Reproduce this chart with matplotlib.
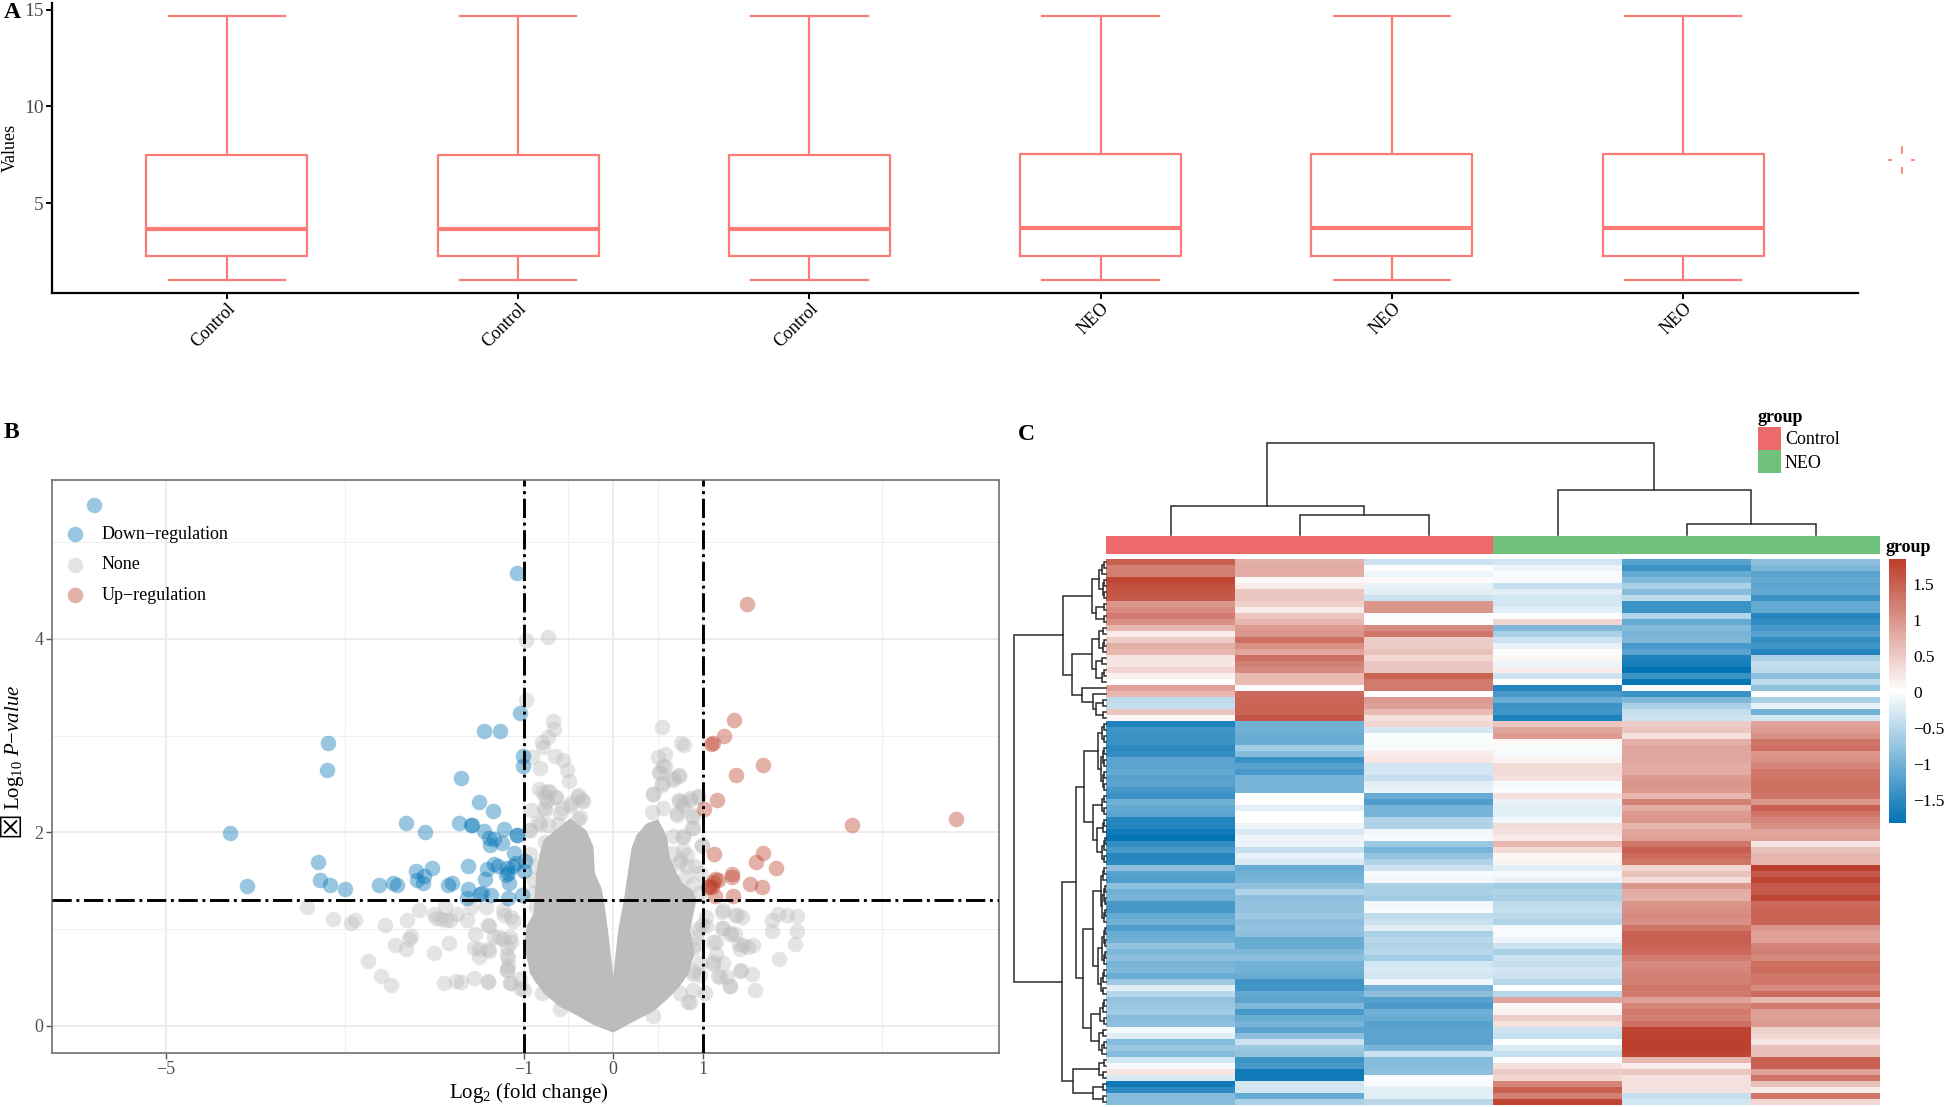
import numpy as np
import matplotlib
matplotlib.use("Agg")
import matplotlib.pyplot as plt
from matplotlib.colors import LinearSegmentedColormap, ListedColormap
from matplotlib.patches import Rectangle

plt.rcParams["font.family"] = ["Liberation Serif", "DejaVu Sans"]
plt.rcParams["mathtext.fontset"] = "custom"
plt.rcParams["mathtext.rm"] = "Liberation Serif"
plt.rcParams["mathtext.it"] = "Liberation Serif:italic"
plt.rcParams["mathtext.bf"] = "Liberation Serif:bold"

W, H = 1946, 1107

# A: boxplot summary per sample
samples = ["Control", "Control", "Control", "NEO", "NEO", "NEO"]
whisker_low = [1.0, 1.0, 1.0, 1.03, 1.03, 1.03]
box_q1 = [2.25, 2.25, 2.25, 2.27, 2.27, 2.27]
box_median = [3.65, 3.65, 3.65, 3.72, 3.72, 3.72]
box_q3 = [7.5, 7.5, 7.5, 7.52, 7.52, 7.52]
whisker_high = [14.7, 14.7, 14.7, 14.68, 14.68, 14.68]

# B: volcano points
down_x = [-5.8, -4.28, -4.09, -3.19, -3.2, -3.3, -3.28, -3.16, -3.0, -2.62, -2.46, -2.42, -2.2, -2.19, -2.11,
          -2.13, -2.03, -1.85, -1.8, -2.32, -2.1, -1.7, -1.44, -1.27, -1.5, -1.34, -1.72, -1.58, -1.59, -1.44,
          -1.22, -1.39, -1.33, -1.38, -1.24, -1.08, -1.07, -1.11, -1.62, -1.41, -1.33, -1.29, -1.19, -1.12, -1.09,
          -1.17, -1.2, -1.16, -1.43, -0.99, -1.0, -1.62, -1.47, -1.49, -1.37, -1.63, -1.17, -1.02, -1.08, -1.04,
          -1.01, -1.01]
down_y = [5.38, 1.99, 1.45, 2.92, 2.64, 1.69, 1.51, 1.46, 1.41, 1.46, 1.48, 1.46, 1.6, 1.51, 1.55,
          1.48, 1.63, 1.46, 1.48, 2.1, 2.0, 2.56, 3.05, 3.05, 2.31, 2.22, 2.1, 2.08, 2.08, 2.01,
          2.03, 1.94, 1.93, 1.87, 1.89, 1.97, 1.97, 1.79, 1.65, 1.62, 1.67, 1.65, 1.63, 1.65, 1.68,
          1.58, 1.56, 1.48, 1.52, 1.7, 1.6, 1.41, 1.37, 1.36, 1.35, 1.32, 1.32, 1.35, 4.68, 3.23,
          2.79, 2.68]
up_x = [1.5, 1.35, 1.24, 1.11, 1.09, 1.67, 1.37, 1.16, 1.01, 2.67, 3.83, 1.13, 1.67, 1.59, 1.82, 1.33, 1.33,
        1.14, 1.17, 1.12, 1.53, 1.66, 1.08, 1.06, 1.1, 1.14, 1.34]
up_y = [4.36, 3.16, 2.99, 2.92, 2.91, 2.7, 2.59, 2.33, 2.24, 2.08, 2.14, 1.78, 1.79, 1.69, 1.63, 1.57, 1.54,
        1.52, 1.51, 1.49, 1.47, 1.44, 1.45, 1.43, 1.44, 1.34, 1.34]
none_x = [-3.42, -3.13, -2.93, -2.89, -2.55, -2.3, -2.17, -2.26, -2.28, -2.44, -2.31, -2.74, -2.59, -2.48, -2.0,
          -1.83, -2.0, -1.98, -1.92, -1.87, -1.82, -1.88, -1.74, -1.63, -1.59, -1.42, -1.54, -1.39, -1.55, -1.5,
          -1.39, -1.5, -1.89, -1.76, -1.7, -1.56, -1.4, -1.33, -1.23, -1.14, -1.12, -1.22, -1.19, -1.17, -1.19,
          -1.14, -1.04, -0.98, -0.73, -0.98, -0.67, -0.66, -0.73, -0.8, -0.78, -0.65, -0.56, -0.49, -0.82, -0.52,
          -0.91, -0.83, -0.79, -0.72, -0.76, -0.64, -0.39, -0.34, -0.77, -0.92, -0.57, -0.39, -0.62, -0.84, -0.94,
          0.55, 0.76, 0.79, 0.5, 0.58, 0.51, 0.56, 0.67, 0.74, 0.54, 0.45, 0.73, 0.78, 0.95, 0.86,
          0.71, 0.89, 0.88, 0.78, 0.99, 0.67, 0.82, 0.91, 0.74, 0.97, 1.21, 1.36, 1.44, 1.84, 1.94,
          2.05, 1.77, 2.05, 1.77, 2.03, 1.85, 1.58, 1.55, 1.42, 1.3, 1.27, 1.17, 1.51, 1.56, 1.4,
          1.3, 1.36, 1.23, 1.12, 1.15, 1.12, 1.04, 1.02, 0.84, 0.89, 0.97, 0.89, 0.93, 0.95]
none_y = [1.23, 1.1, 1.06, 1.09, 1.04, 1.09, 1.2, 0.93, 0.9, 0.84, 0.79, 0.67, 0.52, 0.42, 0.75,
          0.86, 1.16, 1.11, 1.1, 1.09, 1.09, 1.23, 1.16, 1.09, 1.23, 1.23, 0.95, 1.03, 0.8, 0.79,
          0.77, 0.71, 0.44, 0.46, 0.45, 0.49, 0.45, 0.92, 0.9, 0.87, 1.08, 1.15, 0.73, 0.62, 0.58,
          0.44, 0.39, 3.99, 4.02, 3.37, 3.15, 3.07, 2.98, 2.93, 2.88, 2.79, 2.75, 2.53, 2.66, 2.64,
          2.78, 2.45, 2.42, 2.43, 2.36, 2.36, 2.39, 2.32, 2.25, 2.23, 2.25, 2.14, 2.09, 2.11, 2.02,
          3.09, 2.92, 2.9, 2.78, 2.81, 2.62, 2.69, 2.56, 2.58, 2.49, 2.4, 2.32, 2.27, 2.38, 2.33,
          2.18, 2.16, 2.04, 1.95, 1.86, 1.79, 1.77, 1.65, 1.68, 1.58, 1.18, 1.15, 1.12, 1.16, 1.15,
          1.14, 1.09, 0.98, 0.98, 0.85, 0.69, 0.37, 0.54, 0.57, 0.41, 0.51, 0.52, 0.82, 0.84, 0.85,
          0.95, 0.95, 1.01, 0.87, 0.74, 0.64, 1.03, 0.34, 0.25, 0.37, 0.53, 0.57, 0.85, 1.0]
# more grey points hugging the solid cloud
rim_x = [-0.73, -0.65, -0.74, -0.76, -0.6, -0.82, -0.73, -0.93, -0.76, -0.93, -0.875, -0.89, -0.91, -0.86, -1.14,
         -1.23, -1.4, -1.15, -1.28, -1.19, -1.4, -1.17, -1.19, -1.15, -1.4, -1.04, -1.0, -0.8, -0.6, -0.82, -0.73,
         -0.48, -0.39, -0.35, -0.47, -0.37, 0.45, 0.54, 0.67, 0.74, 0.52, 0.58, 0.73, 0.86, 0.95, 0.43, 0.56, 0.71,
         0.78, 0.875, 0.89, 0.78, 0.99, 0.67, 0.745, 0.78, 0.82, 0.89, 0.8, 0.97, 1.04, 0.99, 1.23, 1.38, 1.21, 1.32,
         1.15, 1.45, 1.42, 1.12, 1.23, 0.93, 0.89, 0.97, 0.89, 0.86, 1.19, 1.3, 1.43, 0.745, 0.45]
rim_y = [2.42, 2.37, 2.32, 2.23, 2.2, 2.09, 2.08, 2.02, 1.9, 1.78, 1.65, 1.51, 1.37, 1.23, 1.13,
         1.2, 1.04, 0.92, 0.92, 0.82, 0.79, 0.7, 0.58, 0.44, 0.46, 0.48, 0.37, 0.34, 0.17, 0.51, 0.51,
         2.27, 2.37, 2.33, 2.3, 2.16, 2.4, 2.51, 2.54, 2.59, 2.61, 2.68, 2.33, 2.35, 2.37, 2.21, 2.25, 2.2,
         2.3, 2.18, 2.04, 1.96, 1.87, 1.96, 1.71, 1.82, 1.65, 1.47, 1.54, 1.37, 1.13, 1.04, 1.2, 1.15, 1.01, 0.96,
         0.87, 0.84, 0.79, 0.66, 0.65, 0.92, 0.79, 0.65, 0.54, 0.25, 0.51, 0.41, 0.58, 0.34, 0.1]
# outline of the solid grey cloud, where single points can't be told apart
cloud_x = [0, 0.056, 0.119, 0.168, 0.205, 0.26, 0.37, 0.5, 0.6, 0.63, 0.71, 0.78, 0.89, 0.93, 0.89, 0.86, 0.91, 0.84,
           0.745, 0.6, 0.45, 0.26, 0, -0.22, -0.41, -0.6, -0.78, -0.93, -0.99, -0.97, -0.89, -0.875, -0.86, -0.82,
           -0.78, -0.65, -0.48, -0.3, -0.22, -0.205, -0.13, -0.093, -0.045]
cloud_y = [0.51, 0.99, 1.3, 1.61, 1.84, 1.97, 2.09, 2.135, 1.96, 1.75, 1.58, 1.47, 1.4, 1.3, 1.13, 0.99, 0.75, 0.54,
           0.41, 0.27, 0.15, 0.06, -0.07, 0.01, 0.11, 0.2, 0.34, 0.54, 0.82, 1.03, 1.16, 1.37, 1.58, 1.78,
           1.92, 2.02, 2.145, 2.02, 1.85, 1.58, 1.42, 1.23, 0.89]

# C: heatmap columns, 91 rows each
heat_c1 = [1.5, 1.2, 1.2, 1.75, 1.65, 1.6, 1.55, 1.0, 1.1, 1.25, 1.05, 0.7, 0.2, 0.5, 0.75, 0.7, 0.25, 0.25, 0.4,
           0.15, 0.03, 0.9, 0.7, -0.45, -0.4, 0.55, 0.08, -1.6, -1.35, -1.4, -1.4, -1.5, -1.45, -1.15, -1.15, -1.1,
           -1.2, -1.15, -1.3, -1.4, -1.0, -1.1, -1.15, -1.55, -1.55, -1.7, -1.8, -1.45, -1.3, -1.55, -1.5, -0.8,
           -1.2, -1.25, -0.8, -1.0, -0.95, -1.3, -1.3, -1.1, -1.0, -1.25, -1.05, -1.0, -0.75, -0.9, -0.8, -0.95,
           -0.9, -1.05, -0.7, -0.2, -0.5, -0.75, -0.7, -0.65, -0.85, -0.8, -0.07, -0.2, -0.85, -0.7, -0.85, -0.3,
           -0.05, 0.25, -0.25, -1.7, -1.5, -0.85, -0.85]
heat_c2 = [0.75, 0.8, 0.8, 0.08, 0.2, 0.55, 0.55, 0.45, 0.2, 0.55, 0.7, 0.95, 1.0, 1.35, 1.05, 0.85, 1.35, 1.2, 1.1,
           0.65, 0.65, 0.03, 1.4, 1.45, 1.45, 1.45, 1.6, -1.0, -1.0, -1.05, -1.05, -0.65, -0.85, -1.4, -1.2, -1.3,
           -0.95, -0.95, -0.95, 0.02, 0.02, -0.2, 0.02, 0.02, -0.12, -0.25, -0.1, -0.12, -0.4, -0.15, -0.25, -1.05,
           -1.0, -0.95, -0.8, -0.55, -0.8, -0.75, -0.75, -0.7, -0.8, -0.75, -0.8, -1.05, -1.05, -0.9, -0.8, -1.0,
           -1.0, -1.05, -1.35, -1.35, -1.1, -1.15, -0.9, -1.3, -1.05, -0.95, -1.15, -0.8, -0.35, -0.7, -0.75, -1.4,
           -1.3, -1.7, -1.7, -0.3, -0.3, -1.1, -0.6]
heat_c3 = [-0.35, 0.03, -0.1, 0.06, -0.15, -0.2, -0.35, 1.0, 1.0, 0.0, 0.0, 1.1, 1.3, 0.5, 0.5, 0.6, 0.4, 0.55, 0.55,
           1.45, 1.25, 1.25, 0.03, 0.95, 0.9, 0.65, 0.3, 0.4, -0.3, -0.02, -0.03, -0.03, 0.2, 0.25, -0.3, -0.3,
           -0.4, -0.2, -0.15, -1.05, -1.25, -0.95, -0.95, -0.55, -0.55, -0.08, -0.05, -0.7, -0.95, -0.75, -0.55,
           -0.35, -0.03, -0.07, -0.6, -0.6, -0.65, -0.06, -0.03, -0.45, -0.35, -0.2, -0.6, -0.5, -0.55, -0.5, -0.65,
           -0.3, -0.25, -0.3, -0.08, -1.0, -0.8, -1.2, -1.3, -1.0, -1.05, -1.2, -1.15, -1.15, -1.15, -0.95, -0.35,
           -0.85, -0.85, -0.8, -0.02, -0.05, -0.2, -0.2, -0.5]
heat_c4 = [-0.3, -0.1, -0.03, -0.05, -0.4, -0.2, -0.3, -0.3, -0.2, 0.0, 0.4, -0.9, -0.6, -0.35, -0.15, 0.0, 0.1, -0.1,
           0.2, -0.35, 0.02, -1.55, -1.3, -1.05, -1.4, -1.35, -1.6, 0.55, 0.85, 0.95, 0.1, -0.03, -0.05, 0.12, 0.35,
           0.35, 0.3, -0.05, -0.02, 0.3, -0.15, -0.2, -0.2, -0.08, 0.35, 0.3, 0.2, 0.7, 0.35, 0.1, 0.12, -0.2, -0.07,
           -0.15, -0.65, -0.55, -0.6, -0.45, -0.4, -0.45, -0.55, -0.05, -0.03, -0.1, -0.35, -0.6, -0.35, -0.4, -0.3,
           -0.35, -0.5, 0.0, -0.5, 0.85, 0.1, 0.15, 0.5, 0.3, -0.35, -0.4, 0.0, -0.25, -0.4, 0.0, 0.3, 0.5, 0.4, 1.15,
           1.5, 1.2, 1.75]
heat_c5 = [-1.2, -1.4, -1.1, -0.9, -0.6, -0.85, -0.45, -1.4, -1.4, -0.55, -1.1, -0.85, -0.95, -0.9, -1.3, -1.15, -1.6,
           -1.65, -1.8, -1.4, -1.75, 0.0, -1.4, -0.9, -0.6, -0.4, -0.35, 0.5, 0.55, 0.3, 0.75, 0.85, 0.85, 0.85, 0.8,
           0.8, 0.95, 1.0, 0.95, 0.7, 1.2, 0.8, 0.95, 1.0, 0.7, 0.85, 0.9, 1.3, 1.5, 1.4, 1.3, 0.4, 0.6, 0.35, 1.0, 0.8,
           0.75, 1.0, 1.05, 1.1, 1.05, 1.3, 1.5, 1.5, 1.45, 1.4, 1.25, 1.1, 1.15, 1.2, 1.2, 1.3, 1.25, 0.9, 1.15, 1.25,
           1.2, 1.35, 1.75, 1.8, 1.8, 1.8, 1.75, 0.7, 0.2, 0.55, 0.3, 0.3, 0.3, -0.4, -0.3]
heat_c6 = [-0.8, -0.9, -1.15, -1.1, -1.15, -1.1, -1.4, -1.1, -1.1, -1.55, -1.45, -1.3, -1.2, -1.45, -1.35, -1.55, -0.6,
           -0.4, -0.45, -0.8, -0.45, -0.8, 0.03, -0.6, -0.15, -1.0, -0.3, 0.85, 0.95, 1.05, 1.3, 1.35, 1.0, 1.05, 1.15,
           1.3, 1.3, 1.35, 1.35, 1.3, 1.0, 1.5, 1.3, 1.15, 1.05, 0.85, 0.9, 0.25, 0.6, 0.7, 0.7, 1.8, 1.55, 1.75, 1.55,
           1.55, 1.75, 1.4, 1.45, 1.45, 1.45, 1.0, 0.9, 0.9, 1.15, 1.2, 1.1, 1.35, 1.4, 1.3, 1.3, 1.1, 1.4, 0.7, 1.25,
           0.9, 0.9, 0.95, 0.45, 0.4, 0.25, 0.6, 0.6, 1.5, 1.5, 0.9, 1.3, 0.6, 0.2, 1.3, 0.4]
column_groups = [0, 0, 0, 1, 1, 1]
group_names = ["Control", "NEO"]
group_colors = ["#EC6A6A", "#70C27A"]
heat_ticks = [1.5, 1, 0.5, 0, -0.5, -1, -1.5]
heat_tick_labels = ["1.5", "1", "0.5", "0", "\u22120.5", "\u22121", "\u22121.5"]


def bunch(first, last, h):
    # tight little merges next to the leaves, too fine to read one by one
    if first == last:
        return first
    mid = (first + last) // 2
    return (h, bunch(first, mid, h * 0.6), bunch(mid + 1, last, h * 0.6))


# dendrograms: (merge height, child, child), an int is a leaf
col_tree = (92, (29, 0, (20, 1, 2)), (45, 3, (11, 4, 5)))

a1 = (14, (7, bunch(0, 2, 4), bunch(3, 6, 2.5)), (10, (2, 7, 8), (2, 9, 10)))
a2a = (14, (7, bunch(11, 12, 3), bunch(13, 15, 3)), (10, bunch(16, 17, 4), bunch(18, 20, 4)))
a2b = (24, 21, (13, 22, (10, (3, 23, 24), (3, 25, 26))))
b1a = (22, (8, bunch(27, 30, 4), bunch(31, 38, 5)),
       (13, bunch(39, 42, 4), (9, bunch(43, 45, 3), bunch(46, 50, 4))))
b1b = (23, (13, (5, bunch(51, 53, 3), bunch(54, 60, 3.5)), (8, bunch(61, 67, 4), bunch(68, 72, 5))),
       (15, (6, bunch(73, 75, 3), bunch(76, 77, 2)), (7, bunch(78, 79, 3), bunch(80, 82, 4))))
b2 = (33, (7, (2, 83, 84), (3, 85, 86)), (13, (3, 87, 88), (3, 89, 90)))
row_tree = (92, (43, a1, (34, a2a, a2b)), (44, (30, b1a, b1b), b2))


def px_axes(left, top, right, bottom):
    return fig.add_axes([left / W, 1 - bottom / H, (right - left) / W, (bottom - top) / H])


def draw_tree(ax, node, vertical):
    if not isinstance(node, tuple):
        return node + 0.5, 0
    h, a, b = node
    pa, ha = draw_tree(ax, a, vertical)
    pb, hb = draw_tree(ax, b, vertical)
    xs = [pa, pa, pb, pb]
    ys = [ha, h, h, hb]
    if not vertical:
        xs, ys = ys, xs
    ax.plot(xs, ys, color="#2b2b2b", lw=1.1, solid_joinstyle="miter", clip_on=False)
    return (pa + pb) / 2, h


fig = plt.figure(figsize=(W / 100, H / 100), dpi=100)

# ---- A ----
box_color = "#FB7C76"
ax_a = px_axes(52, 3, 1858, 293)
stats = [dict(whislo=lo, q1=q1, med=m, q3=q3, whishi=hi)
         for lo, q1, m, q3, hi in zip(whisker_low, box_q1, box_median, box_q3, whisker_high)]
line = dict(color=box_color, lw=1.6)
ax_a.bxp(stats, positions=range(1, 7), widths=0.553, capwidths=0.4, showfliers=False,
         boxprops=line, whiskerprops=line, capprops=line,
         medianprops=dict(color=box_color, lw=3, solid_capstyle="butt"))
ax_a.set_xlim(0.4, 6.6)
ax_a.set_ylim(0.34, 15.36)
ax_a.set_xticks(range(1, 7))
ax_a.set_xticklabels(samples, rotation=45, ha="right", rotation_mode="anchor", fontsize=13)
ax_a.set_yticks([5, 10, 15])
ax_a.tick_params(axis="y", labelsize=14, labelcolor="#4D4D4D", width=1.4, length=4, pad=2)
ax_a.tick_params(axis="x", width=1.4, length=4, pad=1)
ax_a.set_ylabel("Values", fontsize=13)
ax_a.yaxis.set_label_coords(-33 / 1806, 0.5)
ax_a.spines["top"].set_visible(False)
ax_a.spines["right"].set_visible(False)
ax_a.spines["left"].set_linewidth(1.6)
ax_a.spines["bottom"].set_linewidth(1.6)

# ---- B ----
ax_b = px_axes(52, 480, 999, 1053)
ax_b.set_xlim(-6.27, 4.31)
ax_b.set_ylim(-0.28, 5.64)
ax_b.set_axisbelow(True)
ax_b.set_xticks([-5, -1, 0, 1])
ax_b.set_xticklabels(["\u22125", "\u22121", "0", "1"])
ax_b.set_yticks([0, 2, 4])
ax_b.set_xticks([-3, -0.5, 0.5, 3], minor=True)
ax_b.set_yticks([1, 3, 5], minor=True)
ax_b.grid(which="major", color="#EBEBEB", lw=1.3)
ax_b.grid(which="minor", color="#F0F0F0", lw=0.8)
ax_b.tick_params(which="minor", length=0)
ax_b.tick_params(which="major", labelsize=13, labelcolor="#4D4D4D", color="#555555", length=4, width=1, pad=2)
for spine in ax_b.spines.values():
    spine.set_color("#707070")
    spine.set_linewidth(1.2)

dot = 126
ax_b.fill(cloud_x, cloud_y, color="#BCBCBC", lw=0, zorder=2)
none_pts = ax_b.scatter(none_x + rim_x, none_y + rim_y, s=dot, color="#BCBCBC", alpha=0.4, lw=0, zorder=2.1)
down_pts = ax_b.scatter(down_x, down_y, s=dot, color="#0072B5", alpha=0.4, lw=0, zorder=2.2)
up_pts = ax_b.scatter(up_x, up_y, s=dot, color="#BC3C29", alpha=0.4, lw=0, zorder=2.3)
dashdot = (0, (6.6, 1.6, 1, 1.6))
ax_b.axhline(1.3, color="black", lw=2.1, ls=dashdot, zorder=3)
ax_b.axvline(-1, color="black", lw=2.1, ls=dashdot, zorder=3)
ax_b.axvline(1, color="black", lw=2.1, ls=dashdot, zorder=3)
ax_b.legend([down_pts, none_pts, up_pts], ["Down\u2212regulation", "None", "Up\u2212regulation"],
            loc="upper left", bbox_to_anchor=(5 / 947, 1 - 46 / 573), frameon=False, fontsize=13,
            labelspacing=0.74, handletextpad=0.45, borderpad=0, borderaxespad=0)
ax_b.set_xlabel("Log$_2$ (fold change)", fontsize=15, labelpad=2, x=0.504)
ax_b.set_ylabel("Log$_{10}$ $\\mathit{P}$\u2212$\\mathit{value}$", fontsize=15, labelpad=6, y=0.533)

# ---- C ----
heat = np.array([heat_c1, heat_c2, heat_c3, heat_c4, heat_c5, heat_c6]).T
cmap = LinearSegmentedColormap.from_list("heat", ["#0072B5", "#FFFFFF", "#BC3C29"])
ax_h = px_axes(1106, 559, 1880, 1105)
im = ax_h.imshow(heat, aspect="auto", cmap=cmap, vmin=-1.82, vmax=1.85, interpolation="nearest",
                 extent=(0, 6, 91, 0))
ax_h.axis("off")

ax_bar = px_axes(1106, 536, 1880, 554)
ax_bar.imshow([column_groups], aspect="auto", cmap=ListedColormap(group_colors), interpolation="nearest")
ax_bar.axis("off")

ax_top = px_axes(1106, 443, 1880, 535)
draw_tree(ax_top, col_tree, True)
ax_top.set_xlim(0, 6)
ax_top.set_ylim(0, 92)
ax_top.axis("off")

ax_left = px_axes(1014, 559, 1106, 1105)
draw_tree(ax_left, row_tree, False)
ax_left.set_xlim(92, 0)
ax_left.set_ylim(91, 0)
ax_left.axis("off")

cax = px_axes(1889, 559, 1906, 823)
cbar = fig.colorbar(im, cax=cax, ticks=heat_ticks)
cbar.ax.set_yticklabels(heat_tick_labels)
cbar.ax.tick_params(length=0, labelsize=12.5, pad=5)
cbar.outline.set_visible(False)

# ---- letters, group legend, stray key mark ----
top = fig.add_axes([0, 0, 1, 1], facecolor="none")
top.set_xlim(0, W)
top.set_ylim(H, 0)
top.axis("off")
top.text(4, 12, "A", fontsize=17, fontweight="bold", va="center")
top.text(4, 433, "B", fontsize=17, fontweight="bold", va="center")
top.text(1018, 434, "C", fontsize=17, fontweight="bold", va="center")
top.text(11, 824, "\u2612", fontsize=21, rotation=90, ha="center", va="center", family=["DejaVu Sans"])
top.text(1758, 417, "group", fontsize=13, fontweight="bold", va="center")
top.text(1885, 547, "group", fontsize=13, fontweight="bold", va="center")
for i, (name, color) in enumerate(zip(group_names, group_colors)):
    top.add_patch(Rectangle((1758, 427 + 23 * i), 23, 23, color=color, lw=0))
    top.text(1785, 440 + 23 * i, name, fontsize=13, va="center")
for xs, ys in [([1902, 1902], [147, 153]), ([1902, 1902], [168, 173]),
               ([1889, 1891], [160, 160]), ([1912, 1914], [160, 160])]:
    top.plot(xs, ys, color=box_color, lw=1.3)

fig.savefig("out.png", dpi=100)
